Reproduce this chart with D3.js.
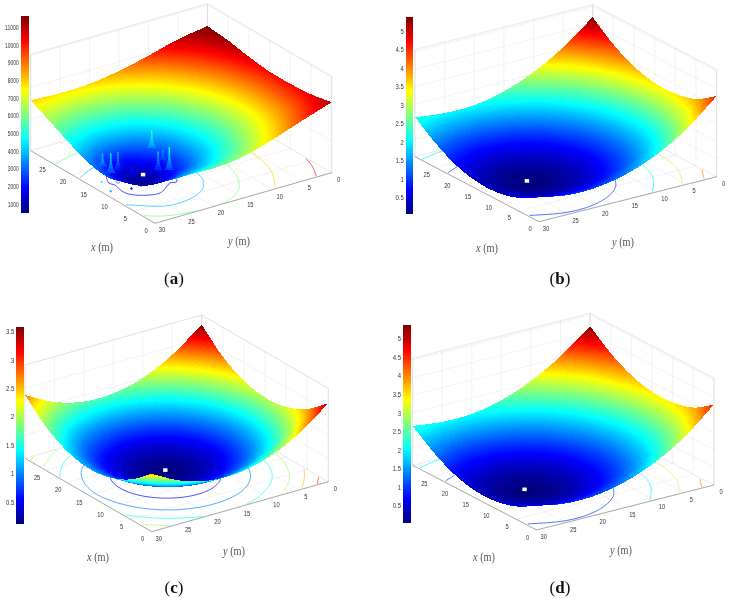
<!DOCTYPE html>
<html>
<head>
<meta charset="utf-8">
<script src="https://cdn.jsdelivr.net/npm/d3@7"></script>
<style>
  html, body { margin: 0; padding: 0; background: #fff; }
  svg { display: block; filter: blur(0.45px); }
  text { font-family: "Liberation Sans", Arial, sans-serif; fill: #333; }
  .caption, .axis-name { font-family: "Liberation Serif", serif; }
</style>
</head>
<body>
<div id="chart"></div>
<script>
// values, rows are x = 0,5..30 and columns are y = 0,5..30
var xTicks = [0, 5, 10, 15, 20, 25, 30];
var yTicks = [0, 5, 10, 15, 20, 25, 30];
var xLabels = [0, 5, 10, 15, 20, 25];
var yLabels = [0, 5, 10, 15, 20, 25, 30];

var zGridA = [
    [11100,  9530, 7890, 6530, 6000, 6300, 7000],
    [10450,  8610, 6810, 5090, 3770, 3370, 5400],
    [10200,  8170, 6170, 4210, 2100,  900, 3050],
    [10210,  8210, 6250, 4330, 2530, 1500, 3210],
    [10650,  8770, 6970, 5330, 4090, 3770, 4530],
    [11300,  9730, 8170, 6850, 5970, 5730, 6250],
    [11660, 10900, 9650, 8570, 7890, 7730, 7950]
];
var zGridB = [
    [4.60, 3.18, 2.15, 1.48, 1.13, 1.10, 1.38],
    [3.82, 2.50, 1.51, 0.84, 0.49, 0.46, 0.74],
    [3.50, 2.18, 1.19, 0.52, 0.17, 0.14, 0.42],
    [3.50, 2.18, 1.19, 0.52, 0.17, 0.14, 0.42],
    [3.82, 2.50, 1.51, 0.84, 0.49, 0.46, 0.74],
    [4.46, 3.14, 2.15, 1.48, 1.13, 1.10, 1.38],
    [5.39, 4.10, 3.11, 2.44, 2.09, 2.06, 2.25]
];
var zGridC = [
    [3.36, 2.42, 1.79, 1.48, 1.49, 1.83, 2.48],
    [2.60, 1.65, 1.03, 0.72, 0.73, 1.07, 1.72],
    [2.16, 1.21, 0.59, 0.28, 0.29, 0.62, 1.28],
    [2.04, 1.09, 0.46, 0.16, 0.17, 0.50, 1.15],
    [2.24, 1.29, 0.66, 0.35, 0.37, 0.70, 1.35],
    [2.75, 1.81, 1.18, 0.87, 0.89, 1.22, 1.87],
    [3.59, 2.65, 2.02, 1.71, 1.72, 2.06, 2.71]
];
var zGridD = [
    [4.58, 3.17, 2.15, 1.47, 1.12, 1.09, 1.37],
    [3.80, 2.49, 1.50, 0.83, 0.48, 0.45, 0.73],
    [3.48, 2.17, 1.18, 0.51, 0.15, 0.12, 0.41],
    [3.48, 2.17, 1.18, 0.51, 0.15, 0.12, 0.41],
    [3.80, 2.49, 1.50, 0.83, 0.48, 0.45, 0.73],
    [4.45, 3.13, 2.14, 1.47, 1.12, 1.09, 1.37],
    [5.37, 4.08, 3.10, 2.43, 2.08, 2.05, 2.24]
];

var barTicksA = [1000, 2000, 3000, 4000, 5000, 6000, 7000, 8000, 9000, 10000, 11000];
var barTicksB = [0.5, 1, 1.5, 2, 2.5, 3, 3.5, 4, 4.5, 5];
var barTicksC = [0.5, 1, 1.5, 2, 2.5, 3, 3.5];
var barTicksD = [0.5, 1, 1.5, 2, 2.5, 3, 3.5, 4, 4.5, 5];

var zWallTicksA = [0, 5000, 10000, 15000];
var zWallTicksB = [0, 1, 2, 3, 4, 5, 6];
var zWallTicksC = [0, 1, 2, 3, 4];
var zWallTicksD = [0, 1, 2, 3, 4, 5, 6];

var contourLevelsA = [4000, 6000, 8000, 10300];
var contourLevelsB = [1, 2, 3, 4, 5];
var contourLevelsC = [0.5, 1, 1.5, 2, 2.5, 3, 3.5];
var contourLevelsD = [1, 2, 3, 4, 5];

// panel a only: the ragged lowest contour, the small islands and the spikes
var raggedX = [16.7, 14.9, 13.7, 12.2, 10.5, 8.7, 8.0, 8.8, 10.0, 9.75, 10.8];
var raggedY = [26.5, 27.4, 27.1, 27.4, 27.4, 25.9, 23.5, 22.1, 20.5, 19.5, 18.7];
var islandX = [14.6, 11.5, 11.5, 15.7, 12.4, 9.6];
var islandY = [26.0, 25.9, 24.3, 28.0, 28.8, 20.9];
var islandZ = [1800, 2000, 2000, 4000, 4000, 4000];
var islandR = [1.0, 0.5, 0.3, 0.3, 0.45, 0.25];
var spikeX = [15.5, 13.8, 14.9, 15.0, 12.9, 16.0, 11.6, 12.9, 10.2];
var spikeY = [28.0, 27.8, 25.8, 25.0, 24.8, 19.3, 21.3, 19.6, 20.4];
var spikeDz = [2040, 3140, 2830, 1100, 1570, 2800, 3000, 1570, 3600];

var jetColors = ["#00007f", "#0000ff", "#00ffff", "#ffff00", "#ff0000", "#7f0000"];
var jetStops = [0, 0.125, 0.375, 0.625, 0.875, 1];

var WIDTH = 730, HEIGHT = 602;
var MESH = 90;   // surface cells per side
var EXTENT = 30; // metres

var panels = [
    {name: "a", F: [155, 223.3], L: [30.7, 150.7], R: [331.7, 172.7], H: 96.3, zMax: 15160,
     grid: zGridA, wall: zWallTicksA, barTicks: barTicksA, levels: contourLevelsA, backOnTop: true,
     bar: [20.7, 28.7, 15.7, 212.7], barDomain: [530, 11660], barDigit: 2.75, fmt: d3.format("d"),
     marker: [13.4, 22.6, 600], xName: [102, 247], yName: [239, 241], caption: [174, 284]},
    {name: "b", F: [539, 221.7], L: [415, 156.7], R: [716.7, 176.7], H: 107, zMax: 6.1,
     grid: zGridB, wall: zWallTicksB, barTicks: barTicksB, levels: contourLevelsB, backOnTop: false,
     bar: [405.7, 413, 16.7, 213.7], barDomain: [0.07, 5.39], barDigit: 3.3, fmt: String,
     marker: [13.1, 22.9, 0.1], xName: [487, 248], yName: [623, 242], caption: [560, 284]},
    {name: "c", F: [151.7, 531.7], L: [25, 458.3], R: [328.3, 481.7], H: 93.3, zMax: 4,
     grid: zGridC, wall: zWallTicksC, barTicks: barTicksC, levels: contourLevelsC, backOnTop: false,
     bar: [16.3, 24, 326.7, 523.7], barDomain: [0.12, 3.59], barDigit: 3.3, fmt: String,
     marker: [14.9, 17, 0.15], xName: [98, 557], yName: [234, 551], caption: [174, 593]},
    {name: "d", F: [536.7, 530], L: [412.7, 465.3], R: [714, 485], H: 107, zMax: 6.1,
     grid: zGridD, wall: zWallTicksD, barTicks: barTicksD, levels: contourLevelsD, backOnTop: false,
     bar: [403, 410.7, 325.3, 522.3], barDomain: [0.05, 5.37], barDigit: 3.3, fmt: String,
     marker: [13.1, 22.9, 0.1], xName: [484, 557], yName: [621, 550], caption: [560, 593]}
];

var svg = d3.select("#chart").append("svg").attr("width", WIDTH).attr("height", HEIGHT);
var line = d3.line();

function jetScale(domain) {
    var lo = domain[0], hi = domain[1];
    return d3.scaleLinear()
        .domain(jetStops.map(function(s) { return lo + s * (hi - lo); }))
        .range(jetColors)
        .clamp(true);
}

function catmull(a, b, c, d, t) {
    return b + 0.5 * t * (c - a + t * (2 * a - 5 * b + 4 * c - d + t * (3 * (b - c) + d - a)));
}

// smooth lookup between the values, only used to shade the mesh
function sampleGrid(grid, x, y) {
    var n = grid.length - 1;
    var fx = x / EXTENT * n, fy = y / EXTENT * n;
    var i = Math.min(Math.floor(fx), n - 1), j = Math.min(Math.floor(fy), n - 1);
    function at(r, c) {
        // past the border carry on straight
        if (r < 0) return 2 * at(0, c) - at(1, c);
        if (r > n) return 2 * at(n, c) - at(n - 1, c);
        if (c < 0) return 2 * at(r, 0) - at(r, 1);
        if (c > n) return 2 * at(r, n) - at(r, n - 1);
        return grid[r][c];
    }
    function row(r) {
        return catmull(at(r, j - 1), at(r, j), at(r, j + 1), at(r, j + 2), fy - j);
    }
    return catmull(row(i - 1), row(i), row(i + 1), row(i + 2), fx - i);
}

// width of a number label, the picture has squeezed digits
function labelWidth(d, digit) {
    return String(d).split("").reduce(function(w, ch) {
        return w + (ch === "." ? digit * 0.5 : digit);
    }, 0);
}

function drawPanel(p) {
    var g = svg.append("g").attr("class", "panel-" + p.name);
    var F = p.F, L = p.L, R = p.R;

    var xToSx = d3.scaleLinear().domain([0, EXTENT]).range([0, L[0] - F[0]]);
    var xToSy = d3.scaleLinear().domain([0, EXTENT]).range([0, L[1] - F[1]]);
    var yToSx = d3.scaleLinear().domain([EXTENT, 0]).range([0, R[0] - F[0]]);
    var yToSy = d3.scaleLinear().domain([EXTENT, 0]).range([0, R[1] - F[1]]);
    var zToH = d3.scaleLinear().domain([0, p.zMax]).range([0, p.H]);
    var jet = jetScale(p.barDomain);

    function project(x, y, z) {
        return [F[0] + xToSx(x) + yToSx(y), F[1] + xToSy(x) + yToSy(y) - zToH(z || 0)];
    }

    /* walls and floor */
    var gridLines = [];
    xTicks.forEach(function(t) {
        gridLines.push([project(t, 0), project(t, EXTENT)]);
        gridLines.push([project(t, 0), project(t, 0, p.zMax)]);
    });
    yTicks.forEach(function(t) {
        gridLines.push([project(0, t), project(EXTENT, t)]);
        gridLines.push([project(EXTENT, t), project(EXTENT, t, p.zMax)]);
    });
    p.wall.forEach(function(t) {
        gridLines.push([project(EXTENT, EXTENT, t), project(EXTENT, 0, t), project(0, 0, t)]);
    });
    g.append("g").selectAll("path").data(gridLines).join("path")
        .attr("d", line).attr("fill", "none")
        .attr("stroke", "#cfcfcf").attr("stroke-width", 0.5).attr("stroke-dasharray", "1 1");

    var frame = [
        [project(EXTENT, EXTENT), project(EXTENT, EXTENT, p.zMax), project(EXTENT, 0, p.zMax),
         project(0, 0, p.zMax), project(0, 0)],
        [project(EXTENT, 0), project(EXTENT, 0, p.zMax)]
    ];
    g.append("g").selectAll("path").data(frame).join("path")
        .attr("d", line).attr("fill", "none").attr("stroke", "#cfcfcf").attr("stroke-width", 0.5);
    g.append("path")
        .attr("d", line([project(EXTENT, EXTENT), project(0, EXTENT), project(0, 0)]))
        .attr("fill", "none").attr("stroke", "#888").attr("stroke-width", 0.7);

    /* tick labels */
    g.append("g").selectAll("text").data(xLabels).join("text")
        .attr("x", function(d) { return project(d, EXTENT)[0] - 9; })
        .attr("y", function(d) { return project(d, EXTENT)[1] + 9.5; })
        .attr("text-anchor", "middle").attr("font-size", 7)
        .attr("textLength", function(d) { return labelWidth(d, 3.2); })
        .attr("lengthAdjust", "spacingAndGlyphs").text(String);
    g.append("g").selectAll("text").data(yLabels).join("text")
        .attr("x", function(d) { return project(0, d)[0] + 7; })
        .attr("y", function(d) { return project(0, d)[1] + 9; })
        .attr("text-anchor", "middle").attr("font-size", 7)
        .attr("textLength", function(d) { return labelWidth(d, 3.2); })
        .attr("lengthAdjust", "spacingAndGlyphs").text(String);

    /* contours on the floor, from the same field as the surface */
    var nodes = MESH + 1;
    var field = new Array(nodes * nodes);
    d3.range(nodes).forEach(function(j) {
        d3.range(nodes).forEach(function(i) {
            field[i + j * nodes] = sampleGrid(p.grid, i * EXTENT / MESH, j * EXTENT / MESH);
        });
    });
    var contours = d3.contours().size([nodes, nodes]).thresholds(p.levels)(field);
    var toData = d3.scaleLinear().domain([0.5, nodes - 0.5]).range([0, EXTENT]);
    contours.forEach(function(c) {
        c.coordinates.forEach(function(poly) {
            poly.forEach(function(ring) {
                // cut the ring where it only runs along the border of the grid
                var run = [];
                function flush() {
                    if (run.length > 1) {
                        g.append("path").attr("d", line(run)).attr("fill", "none")
                            .attr("stroke", jet(c.value)).attr("stroke-width", 0.7);
                    }
                    run = [];
                }
                ring.forEach(function(pt) {
                    var onEdge = pt[0] < 0.9 || pt[1] < 0.9 || pt[0] > nodes - 0.9 || pt[1] > nodes - 0.9;
                    if (onEdge) flush();
                    else run.push(project(toData(pt[0]), toData(pt[1])));
                });
                flush();
            });
        });
    });

    if (p.name === "a") {
        var raggedColor = jet(2000);
        g.append("path")
            .attr("d", d3.line().curve(d3.curveCatmullRom)(raggedX.map(function(x, i) {
                return project(x, raggedY[i]);
            })))
            .attr("fill", "none").attr("stroke", raggedColor).attr("stroke-width", 0.7);
        g.append("g").selectAll("circle").data(islandX).join("circle")
            .attr("cx", function(d, i) { return project(d, islandY[i])[0]; })
            .attr("cy", function(d, i) { return project(d, islandY[i])[1]; })
            .attr("r", function(d, i) { return islandR[i] * 2; })
            .attr("fill", function(d, i) { return i === 0 ? "none" : jet(islandZ[i]); })
            .attr("stroke", function(d, i) { return jet(islandZ[i]); })
            .attr("stroke-width", 0.5);
    }

    /* surface, painted from the back corner forward */
    var cells = [];
    var step = EXTENT / MESH;
    for (var a = MESH - 1; a >= 0; a--) {
        for (var b = 0; b < MESH; b++) {
            var x0 = a * step, y0 = b * step, x1 = x0 + step, y1 = y0 + step;
            var z00 = field[a + b * nodes], z10 = field[a + 1 + b * nodes],
                z11 = field[a + 1 + (b + 1) * nodes], z01 = field[a + (b + 1) * nodes];
            cells.push({
                pts: [project(x0, y0, z00), project(x1, y0, z10), project(x1, y1, z11), project(x0, y1, z01)],
                z: (z00 + z10 + z11 + z01) / 4
            });
        }
    }
    // in panel a the corner next to the viewer does not show in front of the bowl
    if (p.backOnTop) cells.reverse();
    g.append("g").attr("shape-rendering", "crispEdges")
        .selectAll("path").data(cells).join("path")
        .attr("d", function(d) { return line(d.pts) + "Z"; })
        .attr("fill", function(d) { return jet(d.z); });

    /* spikes of panel a */
    if (p.name === "a") {
        spikeX.forEach(function(sx, i) {
            var base = sampleGrid(p.grid, sx, spikeY[i]);
            var slices = d3.range(12);
            g.append("g").selectAll("path").data(slices).join("path")
                .attr("d", function(k) {
                    var t0 = k / 12, t1 = (k + 1) / 12;
                    var p0 = project(sx, spikeY[i], base + t0 * spikeDz[i]);
                    var p1 = project(sx, spikeY[i], base + t1 * spikeDz[i]);
                    var w0 = 0.7 + 4 * Math.pow(1 - t0, 3);
                    var w1 = 0.7 + 4 * Math.pow(1 - t1, 3);
                    return line([[p0[0] - w0, p0[1]], [p0[0] + w0, p0[1]],
                                 [p1[0] + w1, p1[1]], [p1[0] - w1, p1[1]]]) + "Z";
                })
                .attr("fill", function(k) {
                    return jet(base + (0.2 + 0.8 * (k + 0.5) / 12) * spikeDz[i] * 0.9);
                })
                .attr("stroke", "none");
        });
    }

    /* white marker */
    var m = project(p.marker[0], p.marker[1], p.marker[2]);
    g.append("rect").attr("x", m[0] - 2.2).attr("y", m[1] - 1.8)
        .attr("width", 4.4).attr("height", 3.6).attr("fill", "#fff");

    /* colorbar */
    var barY = d3.scaleLinear().domain(p.barDomain).range([p.bar[3], p.bar[2]]);
    var barSteps = d3.range(128);
    var barBand = (p.bar[3] - p.bar[2]) / 128;
    g.append("g").attr("shape-rendering", "crispEdges")
        .selectAll("rect").data(barSteps).join("rect")
        .attr("x", p.bar[0]).attr("width", p.bar[1] - p.bar[0])
        .attr("y", function(k) { return p.bar[3] - (k + 1) * barBand; })
        .attr("height", barBand + 0.4)
        .attr("fill", function(k) {
            return jet(p.barDomain[0] + (k + 0.5) / 128 * (p.barDomain[1] - p.barDomain[0]));
        });
    g.append("g").selectAll("text").data(p.barTicks).join("text")
        .attr("x", p.bar[0] - 2)
        .attr("y", function(d) { return barY(d); })
        .attr("dy", "0.35em").attr("text-anchor", "end").attr("font-size", 7)
        .attr("textLength", function(d) { return labelWidth(p.fmt(d), p.barDigit); })
        .attr("lengthAdjust", "spacingAndGlyphs")
        .text(p.fmt);

    /* axis names and caption */
    [[p.xName, "x"], [p.yName, "y"]].forEach(function(n) {
        var t = g.append("text").attr("class", "axis-name")
            .attr("x", n[0][0]).attr("y", n[0][1] + 4)
            .attr("text-anchor", "middle").attr("font-size", 13)
            .attr("textLength", 22).attr("lengthAdjust", "spacingAndGlyphs")
            .style("fill", "#555");
        t.append("tspan").attr("font-style", "italic").text(n[1]);
        t.append("tspan").text(" (m)");
    });
    var cap = g.append("text").attr("class", "caption")
        .attr("x", p.caption[0]).attr("y", p.caption[1])
        .attr("text-anchor", "middle").attr("font-size", 17).style("fill", "#111");
    cap.append("tspan").text("(");
    cap.append("tspan").attr("font-weight", "bold").text(p.name);
    cap.append("tspan").text(")");
}

panels.forEach(drawPanel);
</script>
</body>
</html>
